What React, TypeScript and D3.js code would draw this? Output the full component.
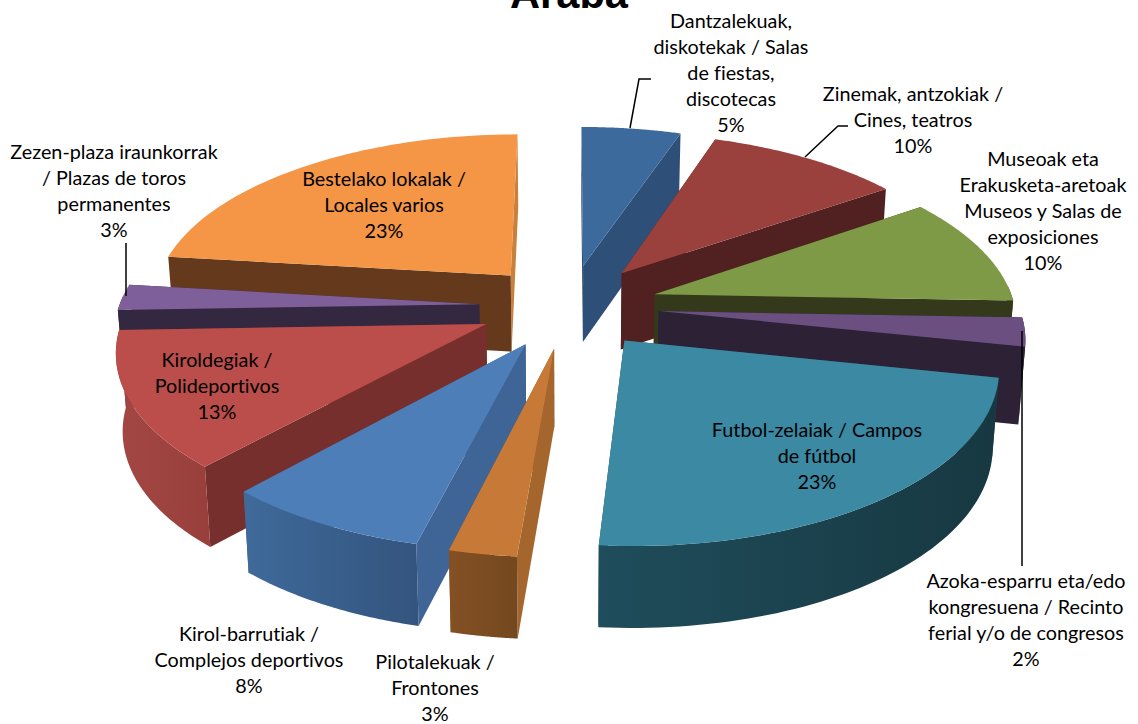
import React from 'react';
import * as d3 from 'd3';

// slices clockwise from 12 o'clock, shares
const categories = [
  'Dantzalekuak',
  'Zinemak',
  'Museoak',
  'Azoka',
  'Futbol',
  'Pilotalekuak',
  'Kirol-barrutiak',
  'Kiroldegiak',
  'Zezen-plaza',
  'Bestelako',
];
const shares = [5.17, 10.17, 10.25, 2.69, 23.0, 2.56, 7.83, 12.78, 2.44, 23.11];
const percentLabels = ['5%', '10%', '10%', '2%', '23%', '3%', '8%', '13%', '3%', '23%'];
const labelLines = [
  ['Dantzalekuak,', 'diskotekak / Salas', 'de fiestas,', 'discotecas'],
  ['Zinemak, antzokiak /', 'Cines, teatros'],
  ['Museoak eta', 'Erakusketa-aretoak', 'Museos y Salas de', 'exposiciones'],
  ['Azoka-esparru eta/edo', 'kongresuena / Recinto', 'ferial y/o de congresos'],
  ['Futbol-zelaiak / Campos', 'de fútbol'],
  ['Pilotalekuak /', 'Frontones'],
  ['Kirol-barrutiak /', 'Complejos deportivos'],
  ['Kiroldegiak /', 'Polideportivos'],
  ['Zezen-plaza iraunkorrak', '/ Plazas de toros', 'permanentes'],
  ['Bestelako lokalak /', 'Locales varios'],
];

// styling per slice, same order as categories
const topColors = ['#3d6a9c', '#9a403d', '#7e9a46', '#6a4f80', '#3b89a3', '#c77a38', '#4d7eb8', '#bb4e4b', '#7f5f9a', '#f49646'];
const startWallColors = ['#2e5078', '#512020', '#34391c', '#2c2135', '#1f4d5b', '#a5662e', '#3e6595', '#772f2e', '#33283f', '#65391c'];
const endWallColors = ['#2e5078', '#512020', '#34391c', '#2c2135', '#1f4d5b', '#845024', '#3e6595', '#772f2e', '#33283f', '#c9803c'];
const rimColors: [string, string][] = [
  ['#2e5078', '#2e5078'],
  ['#512020', '#512020'],
  ['#34391c', '#34391c'],
  ['#2c2135', '#2c2135'],
  ['#1f4d5b', '#173841'],
  ['#845024', '#74481f'],
  ['#3f6a9a', '#33547e'],
  ['#a34744', '#983f3c'],
  ['#33283f', '#33283f'],
  ['#65391c', '#65391c'],
];
const labelAnchors = [
  [731, 28], [913, 101], [1043, 166], [1026, 588], [817, 437], [435, 669], [249, 641], [217, 367], [114, 159], [384, 186],
];
const leaderLines = [
  [[630, 128], [639, 79], [651, 79]],
  [[805, 157], [838, 126], [848, 126]],
  [[1022, 331], [1022, 566]],
  [[126, 243], [126, 296]],
];

const width = 1138;
const height = 724;
const centerX = 569;
const centerY = 306;
const radiusX = 360;
const radiusY = 167.7;
const perspective = 0.1346;
const explode = 0.25;
const depth = 77;
const bottomShrink = 0.985;
const lineGap = 26;

const xScale = d3.scaleLinear().domain([-1, 1]).range([centerX - radiusX, centerX + radiusX]);
const yScale = d3.scaleLinear().domain([-1, 1]).range([centerY + radiusY, centerY - radiusY]);

// ground plane (u right, v away from viewer) to the picture
const project = (u: number, v: number, bottom = false): [number, number] => {
  const s = 1 + perspective * v;
  const x = xScale(u / s);
  const y = yScale(v / s);
  if (!bottom) return [x, y];
  return [centerX + (x - centerX) * bottomShrink, y + depth / (1 + 0.05 * v)];
};

const line = d3.line();

export default function App() {
  const arcs = d3.pie<number>().sort(null).startAngle(0).endAngle(2 * Math.PI)(shares);

  const slices = arcs.map((a, i) => {
    const mid = (a.startAngle + a.endAngle) / 2;
    const u0 = explode * Math.sin(mid);
    const v0 = explode * Math.cos(mid);
    const steps = d3.range(0, 61).map(k => a.startAngle + ((a.endAngle - a.startAngle) * k) / 60);
    const ground = (t: number): [number, number] => [u0 + Math.sin(t), v0 + Math.cos(t)];
    const rimTop = steps.map(t => project(...ground(t)));
    const rimBottom = steps.map(t => project(...ground(t), true));
    // only the part of the outer wall that faces the viewer gets drawn
    const front = steps.filter(t => Math.cos(t) < 0.05);
    const frontTop = front.map(t => project(...ground(t)));
    const frontBottom = front.map(t => project(...ground(t), true));
    const apexTop = project(u0, v0);
    const apexBottom = project(u0, v0, true);
    return {
      i,
      mid,
      top: line([apexTop, ...rimTop]) + 'Z',
      startWall: line([apexTop, rimTop[0], rimBottom[0], apexBottom]) + 'Z',
      endWall: line([apexTop, rimTop[60], rimBottom[60], apexBottom]) + 'Z',
      rim: front.length > 1 ? line([...frontTop, ...frontBottom.reverse()]) + 'Z' : null,
    };
  });

  // paint from the back of the pie to the front
  const ordered = [...slices].sort((a, b) => Math.cos(b.mid) - Math.cos(a.mid));

  return (
    <svg
      width={width}
      height={height}
      viewBox={`0 0 ${width} ${height}`}
      style={{ position: 'absolute', left: 0, top: 0, background: '#fff' }}
    >
      <defs>
        {rimColors.map((c, i) => (
          <linearGradient key={i} id={`rim${i}`} x1="0" x2="1" y1="0" y2="0">
            <stop offset="0%" stopColor={c[0]} />
            <stop offset="100%" stopColor={c[1]} />
          </linearGradient>
        ))}
      </defs>

      {ordered.map(s => (
        <g key={s.i}>
          <path d={s.endWall} fill={endWallColors[s.i]} />
          <path d={s.startWall} fill={startWallColors[s.i]} />
          {s.rim && <path d={s.rim} fill={`url(#rim${s.i})`} />}
          <path d={s.top} fill={topColors[s.i]} />
        </g>
      ))}

      {leaderLines.map((pts, i) => (
        <path key={i} d={line(pts as [number, number][]) || ''} fill="none" stroke="#000" strokeWidth={1.5} />
      ))}

      <text
        x={569}
        y={8}
        textAnchor="middle"
        fontFamily="'Liberation Sans', Arial, sans-serif"
        fontWeight="bold"
        fontSize={41.6}
        fill="#000"
      >
        Araba
      </text>

      {categories.map((c, i) => (
        <text
          key={c}
          fontFamily="Lato, sans-serif"
          fontSize={19.8}
          textAnchor="middle"
          fill="#000"
          style={{ fontVariantLigatures: 'none' }}
        >
          {[...labelLines[i], percentLabels[i]].map((t, j) => (
            <tspan key={j} x={labelAnchors[i][0]} y={labelAnchors[i][1] + j * lineGap}>
              {t}
            </tspan>
          ))}
        </text>
      ))}
    </svg>
  );
}
